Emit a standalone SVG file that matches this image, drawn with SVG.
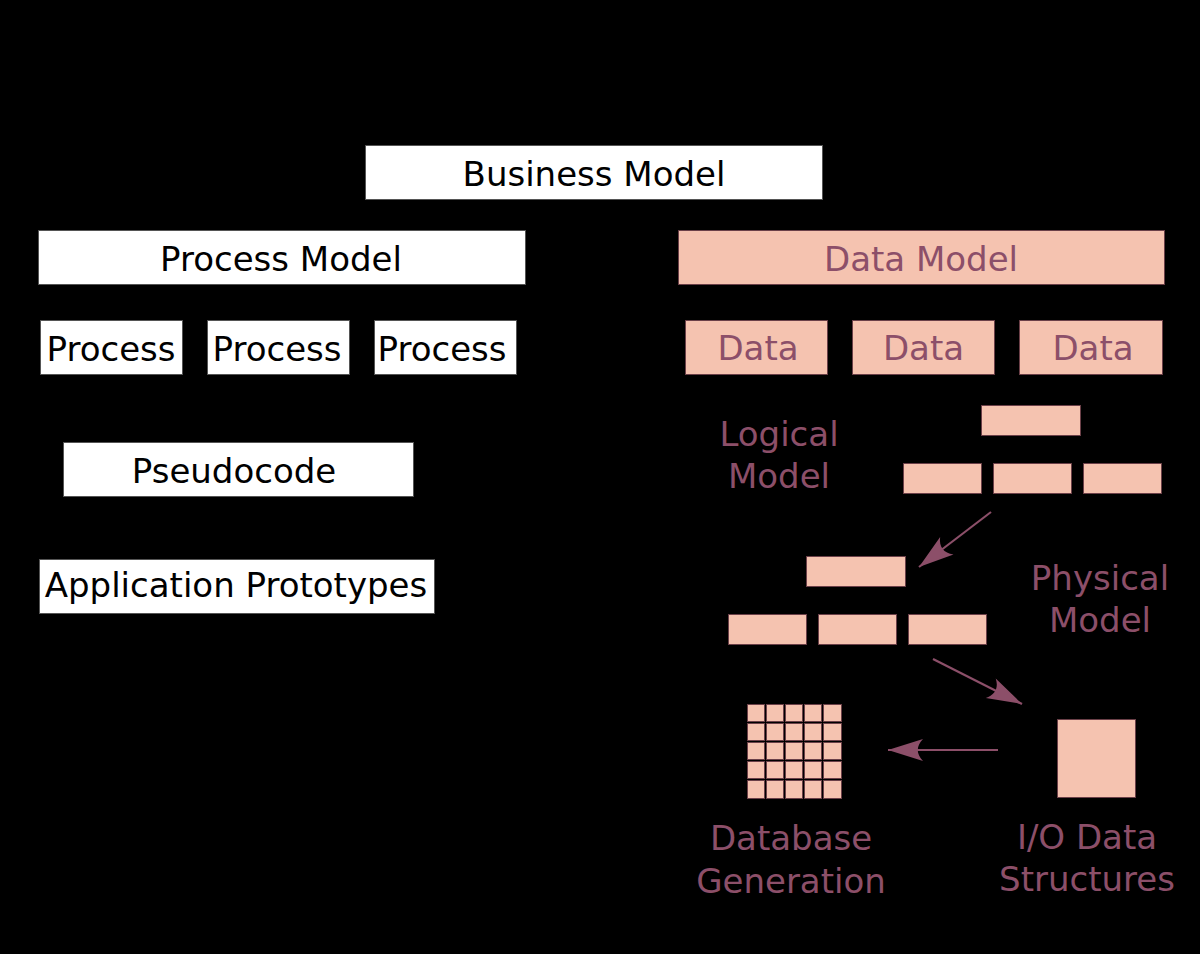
<svg xmlns="http://www.w3.org/2000/svg" width="1200" height="954" viewBox="0 0 1200 954">
<style>
text{font-family:"DejaVu Sans","Liberation Sans",sans-serif;font-size:34px;text-anchor:middle}
.w{fill:#ffffff;stroke:#555555;stroke-width:1}
.p{fill:#f5c3b0;stroke:#6b4048;stroke-width:1}
.bt{fill:#000000}
.pt{fill:#8c4f69}
.conn{stroke:#8c4f69;stroke-width:2.2;fill:none}
</style>
<defs>
<marker id="ah" markerUnits="userSpaceOnUse" markerWidth="40" markerHeight="28" viewBox="-37 -14 40 28" refX="0" refY="0" orient="auto">
<path d="M0,0 L-35,-11 C-28,-4 -28,4 -35,11 Z" fill="#8c4f69"/>
</marker>
</defs>
<rect x="0" y="0" width="1200" height="954" fill="#000000"/>
<g id="business-model"><rect class="w" x="365.5" y="145.5" width="457" height="54"/><text class="bt" x="594" y="186">Business Model</text></g>
<g id="process-model"><rect class="w" x="38.5" y="230.5" width="487" height="54"/><text class="bt" x="281" y="271">Process Model</text></g>
<g id="process-1"><rect class="w" x="40.5" y="320.5" width="142" height="54"/><text class="bt" x="111" y="361">Process</text></g>
<g id="process-2"><rect class="w" x="207.5" y="320.5" width="142" height="54"/><text class="bt" x="277" y="361">Process</text></g>
<g id="process-3"><rect class="w" x="374.5" y="320.5" width="142" height="54"/><text class="bt" x="442" y="361">Process</text></g>
<g id="pseudocode"><rect class="w" x="63.5" y="442.5" width="350" height="54"/><text class="bt" x="234" y="483">Pseudocode</text></g>
<g id="application-prototypes"><rect class="w" x="39.5" y="559.5" width="395" height="54"/><text class="bt" x="236" y="597">Application Prototypes</text></g>
<g id="data-model"><rect class="p" x="678.5" y="230.5" width="486" height="54"/><text class="pt" x="921" y="271">Data Model</text></g>
<g id="data-1"><rect class="p" x="685.5" y="320.5" width="142" height="54"/><text class="pt" x="758" y="360">Data</text></g>
<g id="data-2"><rect class="p" x="852.5" y="320.5" width="142" height="54"/><text class="pt" x="923.5" y="360">Data</text></g>
<g id="data-3"><rect class="p" x="1019.5" y="320.5" width="143" height="54"/><text class="pt" x="1093" y="360">Data</text></g>
<g id="logical-model">
<text class="pt" x="779" y="446">Logical</text>
<text class="pt" x="779" y="488">Model</text>
<rect class="p" x="981.5" y="405.5" width="99" height="30"/>
<rect class="p" x="903.5" y="463.5" width="78" height="30"/>
<rect class="p" x="993.5" y="463.5" width="78" height="30"/>
<rect class="p" x="1083.5" y="463.5" width="78" height="30"/>
</g>
<g id="physical-model">
<text class="pt" x="1100" y="590">Physical</text>
<text class="pt" x="1100" y="632">Model</text>
<rect class="p" x="806.5" y="556.5" width="99" height="30"/>
<rect class="p" x="728.5" y="614.5" width="78" height="30"/>
<rect class="p" x="818.5" y="614.5" width="78" height="30"/>
<rect class="p" x="908.5" y="614.5" width="78" height="30"/>
</g>
<g id="database-generation">
<rect class="p" x="747.5" y="704.5" width="17" height="17"/><rect class="p" x="766.5" y="704.5" width="17" height="17"/><rect class="p" x="785.5" y="704.5" width="17" height="17"/><rect class="p" x="804.5" y="704.5" width="17" height="17"/><rect class="p" x="823.5" y="704.5" width="18" height="17"/>
<rect class="p" x="747.5" y="723.5" width="17" height="17"/><rect class="p" x="766.5" y="723.5" width="17" height="17"/><rect class="p" x="785.5" y="723.5" width="17" height="17"/><rect class="p" x="804.5" y="723.5" width="17" height="17"/><rect class="p" x="823.5" y="723.5" width="18" height="17"/>
<rect class="p" x="747.5" y="742.5" width="17" height="17"/><rect class="p" x="766.5" y="742.5" width="17" height="17"/><rect class="p" x="785.5" y="742.5" width="17" height="17"/><rect class="p" x="804.5" y="742.5" width="17" height="17"/><rect class="p" x="823.5" y="742.5" width="18" height="17"/>
<rect class="p" x="747.5" y="761.5" width="17" height="17"/><rect class="p" x="766.5" y="761.5" width="17" height="17"/><rect class="p" x="785.5" y="761.5" width="17" height="17"/><rect class="p" x="804.5" y="761.5" width="17" height="17"/><rect class="p" x="823.5" y="761.5" width="18" height="17"/>
<rect class="p" x="747.5" y="780.5" width="17" height="18"/><rect class="p" x="766.5" y="780.5" width="17" height="18"/><rect class="p" x="785.5" y="780.5" width="17" height="18"/><rect class="p" x="804.5" y="780.5" width="17" height="18"/><rect class="p" x="823.5" y="780.5" width="18" height="18"/>
<text class="pt" x="791" y="850">Database</text>
<text class="pt" x="791" y="893">Generation</text>
</g>
<g id="io-data-structures">
<rect class="p" x="1057.5" y="719.5" width="78" height="78"/>
<text class="pt" x="1087" y="849">I/O Data</text>
<text class="pt" x="1087" y="891">Structures</text>
</g>
<g id="connectors">
<line class="conn" x1="991" y1="512" x2="919" y2="567" marker-end="url(#ah)"/>
<line class="conn" x1="933" y1="659" x2="1022" y2="704" marker-end="url(#ah)"/>
<line class="conn" x1="998" y1="750" x2="888" y2="750" marker-end="url(#ah)"/>
</g>
</svg>
